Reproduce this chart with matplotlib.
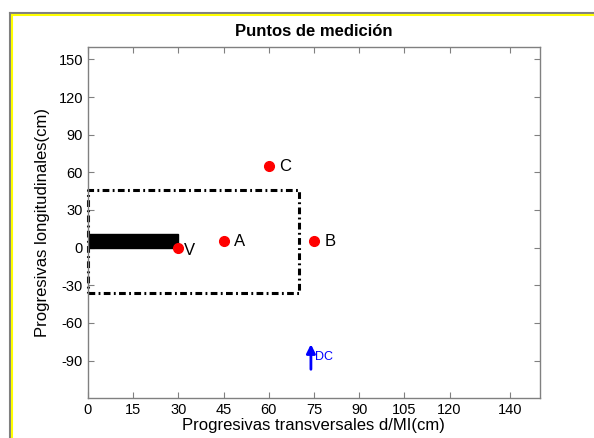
import matplotlib.pyplot as plt
from matplotlib.lines import Line2D
from matplotlib.patches import Rectangle

plt.rcParams['font.family'] = ['Liberation Sans', 'DejaVu Sans']
plt.rcParams['axes.unicode_minus'] = False

# puntos de medicion
etiquetas = ['V', 'A', 'B', 'C']
px = [30, 45, 75, 60]
py = [0, 5, 5, 65]

# zona de ensayo (rectangulo punteado) y barra
zona_x = [0, 70]
zona_y = [-36, 46]
barra_x = [0, 30]
barra_y = [0, 11]

# flecha DC
dc_x = 74
dc_y = [-97, -77]

xticks = [0, 15, 30, 45, 60, 75, 90, 105, 120, 140]
yticks = [-90, -60, -30, 0, 30, 60, 90, 120, 150]

fig = plt.figure(figsize=(5.94, 4.38), dpi=100)
ax = fig.add_axes([0.148, 0.091, 0.761, 0.802])

ax.add_patch(Rectangle((barra_x[0], barra_y[0]), barra_x[1] - barra_x[0], barra_y[1] - barra_y[0],
                       color='black', zorder=2))
ax.plot([zona_x[0], zona_x[1], zona_x[1], zona_x[0], zona_x[0]],
        [zona_y[0], zona_y[0], zona_y[1], zona_y[1], zona_y[0]],
        color='black', linestyle=(0, (2.2, 1.1, 0.6, 1.1)), linewidth=2.2,
        zorder=2, clip_on=False)

ax.plot(px, py, 'o', color='red', markersize=7, markeredgecolor='red', zorder=3)
for e, x, y in zip(etiquetas, px, py):
    if e == 'V':
        ax.text(x + 1.8, y - 2.5, e, fontsize=12, va='center', ha='left', zorder=4)
    else:
        ax.text(x + 3.5, y, e, fontsize=12, va='center', ha='left', zorder=4)

ax.annotate('', xy=(dc_x, dc_y[1]), xytext=(dc_x, dc_y[0]),
            arrowprops=dict(arrowstyle='-|>', color='blue', lw=2, mutation_scale=13,
                            shrinkA=0, shrinkB=0))
ax.text(dc_x + 1.3, -87, 'DC', color='blue', fontsize=9, va='center', ha='left')

ax.set_xlim(0, 150)
ax.set_ylim(-120, 160)
ax.set_xticks(xticks)
ax.set_yticks(yticks)
ax.tick_params(direction='in', top=True, right=True, labelsize=10.5, color='#808080', length=4)
for s in ax.spines.values():
    s.set_color('#808080')
    s.set_linewidth(1)

ax.set_title('Puntos de medición', fontsize=12, fontweight='bold', pad=8)
ax.set_xlabel('Progresivas transversales d/MI(cm)', fontsize=12, labelpad=1)
ax.set_ylabel('Progresivas longitudinales(cm)', fontsize=12, labelpad=6)

# marco amarillo de la figura
H = 438.0
W = 594.0
fig.add_artist(Line2D([10 / W, 1], [1 - 13 / H, 1 - 13 / H], color='#808080', lw=1.5))
fig.add_artist(Line2D([11.5 / W, 1], [1 - 14.8 / H, 1 - 14.8 / H], color='yellow', lw=1.5))
fig.add_artist(Line2D([10 / W, 10 / W], [0, 1 - 13 / H], color='#808080', lw=1.5))
fig.add_artist(Line2D([11.5 / W, 11.5 / W], [0, 1 - 14.8 / H], color='yellow', lw=1.5))

fig.savefig('out.png', dpi=100)
